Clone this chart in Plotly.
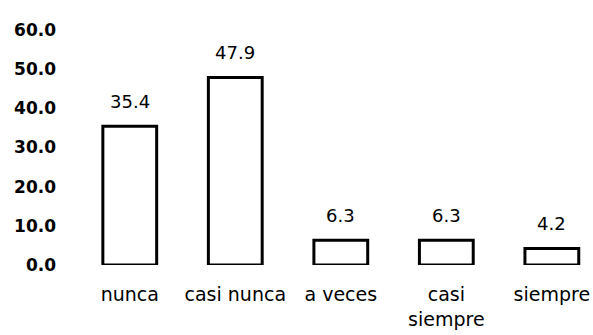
import plotly.graph_objects as go

categories = ["nunca", "casi nunca", "a veces", "casi<br>siempre", "siempre"]
values = [35.4, 47.9, 6.3, 6.3, 4.2]
y_ticks = [0, 10, 20, 30, 40, 50, 60]
y_tick_labels = ["0.0", "10.0", "20.0", "30.0", "40.0", "50.0", "60.0"]

fig = go.Figure()
fig.add_trace(go.Bar(
    x=list(range(len(categories))),
    y=values,
    width=0.51,
    marker=dict(color="white", line=dict(color="black", width=3)),
    showlegend=False,
))

for i, v in enumerate(values):
    fig.add_annotation(x=i, y=v, text=f"{v:.1f}", showarrow=False,
                       yanchor="middle", yshift=25,
                       font=dict(family="DejaVu Sans", size=18, color="black"))

fig.update_layout(
    width=593, height=335,
    margin=dict(l=77, r=0, t=30, b=70),
    paper_bgcolor="white", plot_bgcolor="white",
    xaxis=dict(
        range=[-0.5, 4.39],
        tickmode="array",
        tickvals=list(range(len(categories))),
        ticktext=categories,
        showgrid=False, zeroline=False, showline=False, ticks="",
        ticklabelstandoff=16,
        tickfont=dict(family="DejaVu Sans", size=19, color="black"),
    ),
    yaxis=dict(
        range=[0, 60],
        tickmode="array",
        tickvals=y_ticks,
        ticktext=y_tick_labels,
        showgrid=False, zeroline=False, showline=False, ticks="",
        ticklabelstandoff=20,
        tickfont=dict(family="DejaVu Sans", size=17, color="black", weight="bold"),
    ),
)

fig.write_html("out.html")
